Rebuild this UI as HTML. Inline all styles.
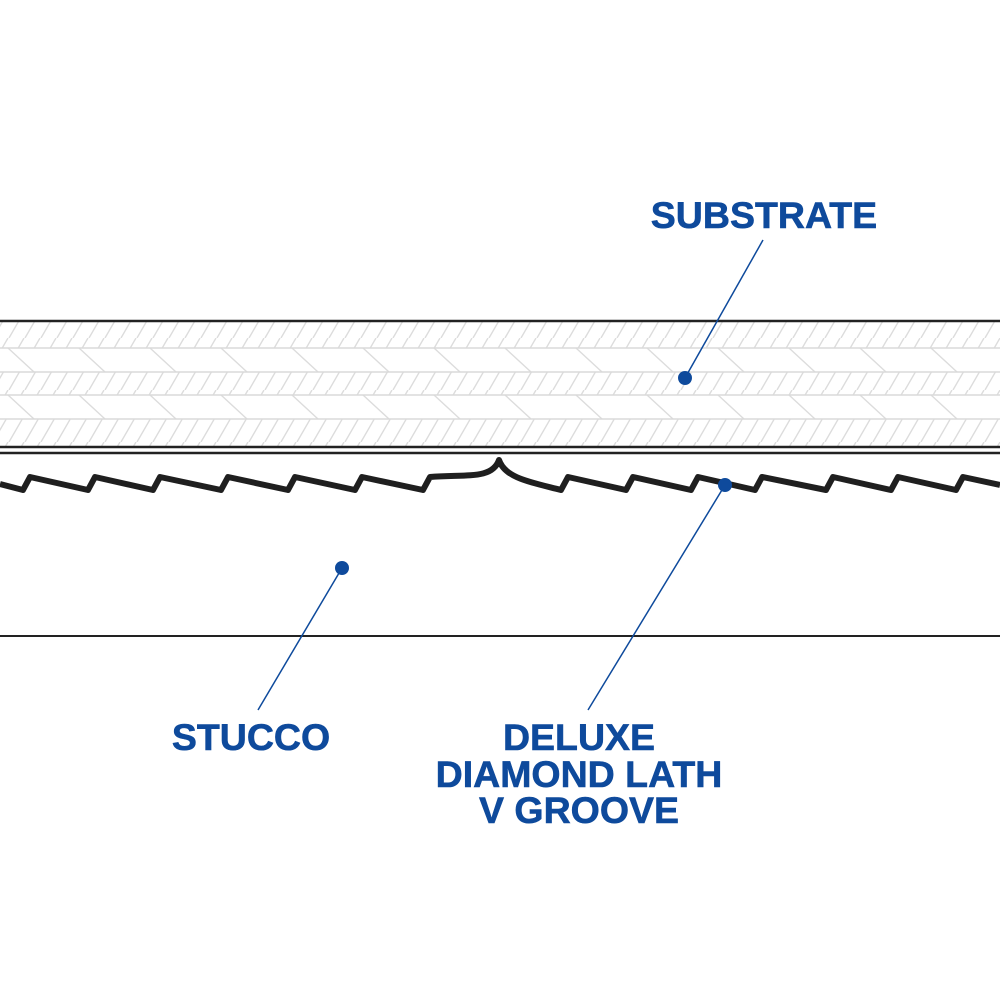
<!DOCTYPE html>
<html><head><meta charset="utf-8"><style>
html,body{margin:0;padding:0;background:#fff}
svg{display:block}
text{font-family:"Liberation Sans",Arial,sans-serif;font-weight:bold;fill:#0e4a9c;font-size:37.5px;text-anchor:middle;stroke:#0e4a9c;stroke-width:0.6}
</style></head><body>
<svg width="1000" height="1000" viewBox="0 0 1000 1000" xmlns="http://www.w3.org/2000/svg">
<defs>
<pattern id="hatch" x="0" y="0" width="16" height="26" patternUnits="userSpaceOnUse">
<line x1="-7" y1="26" x2="8" y2="0" stroke="#dcdcdc" stroke-width="1.4"/>
<line x1="9" y1="26" x2="24" y2="0" stroke="#dcdcdc" stroke-width="1.4"/>
</pattern>
</defs>
<rect x="0" y="321" width="1000" height="27" fill="url(#hatch)"/>
<rect x="0" y="372" width="1000" height="23" fill="url(#hatch)"/>
<rect x="0" y="419" width="1000" height="28" fill="url(#hatch)"/>
<path stroke="#dcdcdc" stroke-width="1.4" fill="none" d="
M8 348 L34 372 M79 348 L105 372 M150 348 L176 372 M221 348 L247 372 M292 348 L318 372 M363 348 L389 372 M434 348 L460 372 M505 348 L531 372 M576 348 L602 372 M647 348 L673 372 M718 348 L744 372 M789 348 L815 372 M860 348 L886 372 M931 348 L957 372
M8 395 L34 419 M79 395 L105 419 M150 395 L176 419 M221 395 L247 419 M292 395 L318 419 M363 395 L389 419 M434 395 L460 419 M505 395 L531 419 M576 395 L602 419 M647 395 L673 419 M718 395 L744 419 M789 395 L815 419 M860 395 L886 419 M931 395 L957 419"/>
<g stroke="#dadada" stroke-width="1.5">
<line x1="0" y1="348" x2="1000" y2="348"/>
<line x1="0" y1="372" x2="1000" y2="372"/>
<line x1="0" y1="395" x2="1000" y2="395"/>
<line x1="0" y1="419" x2="1000" y2="419"/>
</g>
<g stroke="#222" stroke-width="2.5">
<line x1="0" y1="321" x2="1000" y2="321"/>
<line x1="0" y1="447" x2="1000" y2="447"/>
<line x1="0" y1="453" x2="1000" y2="453"/>
</g>
<line x1="0" y1="636" x2="1000" y2="636" stroke="#222" stroke-width="2"/>
<path fill="none" stroke="#1f1f1f" stroke-width="6" stroke-linejoin="round"
d="M0 484 L23 490 L30 477 L88 490 L95 477 L153 490 L160 477 L221 490 L228 477 L288 490 L295 477 L355 490 L362 477 L423 490 L430 477
C465 474 492 480 499 460 C505 478 530 482 561 490 L568 477 L626 490 L633 477 L691 490 L698 477 L755 490 L762 477 L826 490 L833 477 L891 490 L898 477 L956 490 L963 477 L1000 485"/>
<g stroke="#0e4a9c" stroke-width="1.5">
<line x1="685" y1="378" x2="763" y2="240"/>
<line x1="725" y1="485" x2="588" y2="710"/>
<line x1="342" y1="568" x2="258" y2="710"/>
</g>
<g fill="#0e4a9c">
<circle cx="685" cy="378" r="7"/>
<circle cx="725" cy="485" r="7"/>
<circle cx="342" cy="568" r="7"/>
</g>
<text x="764" y="228">SUBSTRATE</text>
<text x="251" y="750">STUCCO</text>
<text x="579" y="750">DELUXE</text>
<text x="579" y="787">DIAMOND LATH</text>
<text x="579" y="823">V GROOVE</text>
</svg>
</body></html>
